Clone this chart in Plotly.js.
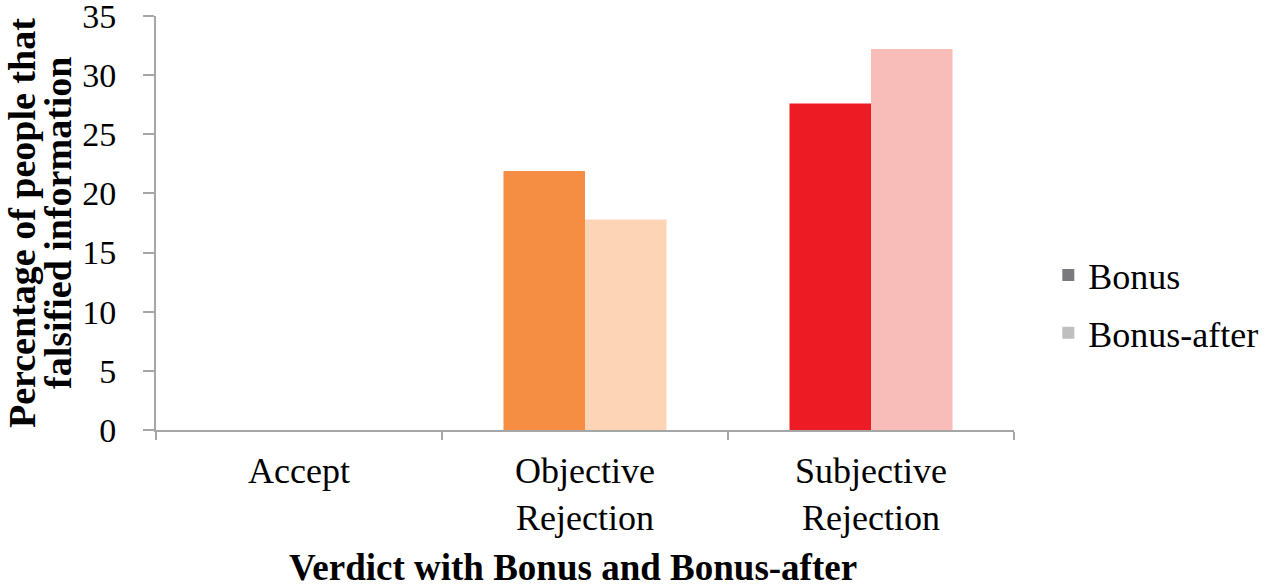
<!DOCTYPE html>
<html>
<head>
<meta charset="utf-8">
<script src="https://cdn.plot.ly/plotly-3.0.1.min.js"></script>
<style>html,body{margin:0;padding:0;background:#fff;}#chart{width:1267px;height:588px;}</style>
</head>
<body>
<div id="chart"></div>
<script>
const categories = ["Accept", "Objective<br>Rejection", "Subjective<br>Rejection"];
const bonusValues = [0, 21.9, 27.6];
const bonusAfterValues = [0, 17.8, 32.2];
const bonusColors = ["#7A797E", "#F58D42", "#ED1C24"];
const bonusAfterColors = ["#BFBFBF", "#FDD5B6", "#F8BDB9"];
const yTicks = [0, 5, 10, 15, 20, 25, 30, 35];

const font = "Liberation Serif, Times New Roman, serif";

const traces = [
  {type: "bar", name: "Bonus", x: categories, y: bonusValues,
   marker: {color: bonusColors}, legendgroup: "a", hoverinfo: "none"},
  {type: "bar", name: "Bonus-after", x: categories, y: bonusAfterValues,
   marker: {color: bonusAfterColors}, legendgroup: "b", hoverinfo: "none"}
];

const layout = {
  width: 1267, height: 588,
  margin: {l: 156, r: 253, t: 16, b: 158, autoexpand: false},
  paper_bgcolor: "#fff", plot_bgcolor: "#fff",
  barmode: "group", bargap: 0.43, bargroupgap: 0,
  font: {family: font, color: "#000", size: 34},
  showlegend: true,
  legend: {x: 1.04, y: (430 - 304) / 414, yanchor: "middle", xanchor: "left",
           font: {family: font, size: 36, color: "#000"},
           tracegroupgap: 8, bgcolor: "rgba(0,0,0,0)"},
  xaxis: {
    type: "category", tickson: "boundaries", ticks: "outside", ticklen: 8,
    tickwidth: 2, tickcolor: "#A6A6A6", showline: true, linecolor: "#A6A6A6",
    linewidth: 2, showgrid: false, zeroline: false, automargin: false,
    tickfont: {family: font, size: 36, color: "#000"}, ticklabelstandoff: 8
  },
  yaxis: {
    range: [0, 35], tickvals: yTicks, ticktext: yTicks.map(String),
    ticks: "outside", ticklen: 11, tickwidth: 2, tickcolor: "#A6A6A6",
    showline: true, linecolor: "#A6A6A6", linewidth: 2, showgrid: false,
    zeroline: false, automargin: false, ticklabeloverflow: "allow",
    tickfont: {family: font, size: 34, color: "#000"},
    ticklabelstandoff: 20
  },
  annotations: [
    {text: "<b>Verdict with Bonus and Bonus-after</b>", xref: "paper", yref: "paper",
     x: (573 - 156) / 858, y: -(567 - 430) / 414, xanchor: "center", yanchor: "middle",
     showarrow: false, font: {family: font, size: 37, color: "#000"}},
    {text: "<b>Percentage of people that</b>", xref: "paper", yref: "paper",
     x: -(156 - 22) / 858, y: 0.5, xanchor: "center", yanchor: "middle", textangle: -90,
     showarrow: false, font: {family: font, size: 38, color: "#000"}},
    {text: "<b>falsified information</b>", xref: "paper", yref: "paper",
     x: -(156 - 58) / 858, y: 0.5, xanchor: "center", yanchor: "middle", textangle: -90,
     showarrow: false, font: {family: font, size: 38, color: "#000"}}
  ]
};

Plotly.newPlot("chart", traces, layout, {staticPlot: true, displayModeBar: false});
</script>
</body>
</html>
